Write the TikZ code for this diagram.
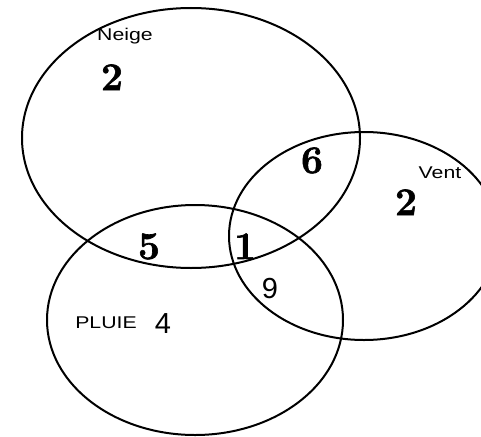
\documentclass[tikz,border=0pt]{standalone}
\usepackage{fontspec}
\newfontfamily\labelsans{Liberation Sans}
\newfontfamily\heavynum[BoldFeatures={FakeBold=1.6}]{Latin Modern Roman}
\tikzset{
  setline/.style={line width=2pt},
  setname/.style={anchor=base, inner sep=0pt, font=\labelsans\fontsize{17}{17}\selectfont},
  bignum/.style={anchor=base, inner sep=0pt, font=\heavynum\fontsize{39}{39}\selectfont\bfseries},
  sansnum/.style={anchor=base, inner sep=0pt, font=\labelsans\fontsize{29}{29}\selectfont},
}
\begin{document}
\begin{tikzpicture}[x=1pt,y=-1pt]
\useasboundingbox (0,0) rectangle (481,436);
\clip (0,0) rectangle (481,436);
\coordinate (neige) at (191,138);
\coordinate (vent) at (364,236);
\coordinate (pluie) at (195,320);
\draw[setline] (neige) ellipse [x radius=169, y radius=130];
\draw[setline] (vent) ellipse [x radius=135, y radius=104];
\draw[setline] (pluie) ellipse [x radius=148, y radius=115];

\node[setname] (neigename) at (125,41) {\scalebox{1.25}[1]{Neige}};
\node[setname] (ventname) at (440,178) {\scalebox{1.25}[1]{Vent}};
\node[setname] (pluiename) at (106,328) {\scalebox{1.25}[1]{PLUIE}};

\node[bignum] (nonly) at (112,90) {2};
\node[bignum] (vonly) at (406,215) {2};
\node[bignum] (nv) at (312,173) {6};
\node[bignum] (np) at (149,259) {5};
\node[bignum] (npv) at (245,259) {1};
\node[sansnum] (pv) at (270,298) {9};
\node[sansnum] (ponly) at (163,333) {4};
\end{tikzpicture}
\end{document}
